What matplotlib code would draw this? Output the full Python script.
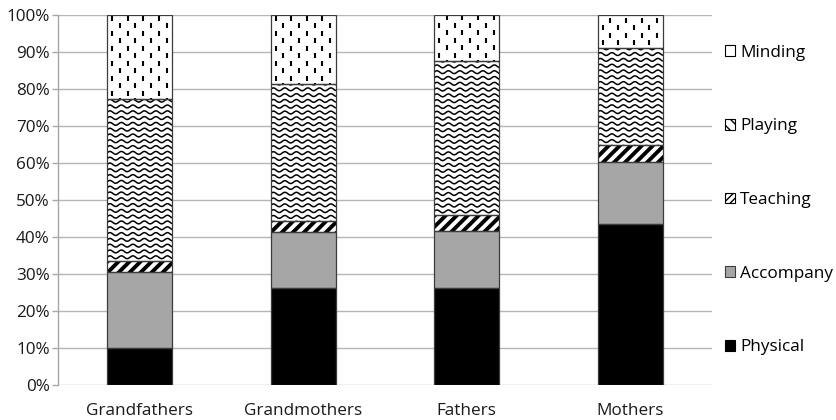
import numpy as np
import matplotlib.pyplot as plt
from matplotlib.collections import LineCollection
from matplotlib.patches import Patch

plt.rcParams['font.family'] = ['Open Sans', 'DejaVu Sans']

groups = ['Grandfathers', 'Grandmothers', 'Fathers', 'Mothers']
physical = [9.9, 26.1, 26.1, 43.4]
accompany = [20.7, 15.3, 15.6, 17.0]
teaching = [2.9, 3.0, 4.2, 4.5]
playing = [43.8, 37.0, 41.7, 26.1]
minding = [22.7, 18.6, 12.4, 9.0]
ytick_vals = list(range(0, 101, 10))

W, H, DPI = 837, 420, 100
fig = plt.figure(figsize=(W / DPI, H / DPI), dpi=DPI)
ax_l, ax_r, ax_t, ax_b = 58, 712, 15, 385
ax = fig.add_axes([ax_l / W, 1 - ax_b / H, (ax_r - ax_l) / W, (ax_b - ax_t) / H])

x = np.arange(len(groups))
ax.set_xlim(-0.5, len(groups) - 0.5)
ax.set_ylim(0, 100)
# pixels per data unit, used to lay the fill patterns out in screen space
sx = (ax_r - ax_l) / len(groups)
sy = (ax_b - ax_t) / 100.0

bar_w = 0.40
edge = '#3c3c3c'
fs = 12.3


def wave_fill(patch):
    x0, y0 = patch.get_x(), patch.get_y()
    wp, hp = patch.get_width() * sx, patch.get_height() * sy
    xs = np.linspace(0, wp, 120)
    segs = []
    for yr in np.arange(-2.0, hp + 4, 5.8):
        ys = yr + 1.4 * np.sin(2 * np.pi * xs / 11.5)
        segs.append(np.column_stack([x0 + xs / sx, y0 + ys / sy]))
    lc = LineCollection(segs, colors='black', linewidths=1.1, zorder=2.2)
    ax.add_collection(lc)
    lc.set_clip_path(patch)


def dash_fill(patch):
    x0, y0 = patch.get_x(), patch.get_y()
    wp, hp = patch.get_width() * sx, patch.get_height() * sy
    segs = []
    for i, cx in enumerate(np.arange(5.0, wp, 7.8)):
        start = 3.0 + (i % 2) * 7.5 - 15
        for cy in np.arange(start, hp + 15, 15):
            segs.append([(x0 + cx / sx, y0 + cy / sy),
                         (x0 + cx / sx, y0 + (cy + 5) / sy)])
    lc = LineCollection(segs, colors='black', linewidths=1.5, zorder=2.2)
    ax.add_collection(lc)
    lc.set_clip_path(patch)


def stripe_fill(patch):
    x0, y0 = patch.get_x(), patch.get_y()
    wp, hp = patch.get_width() * sx, patch.get_height() * sy
    segs = []
    for c in np.arange(-hp - 12, wp + 12, 11.0):
        segs.append([(x0 + c / sx, y0 - 2 / sy),
                     (x0 + (c + hp + 4) / sx, y0 + (hp + 2) / sy)])
    lc = LineCollection(segs, colors='black', linewidths=2.8, zorder=2.2)
    ax.add_collection(lc)
    lc.set_clip_path(patch)


series = [
    ('Physical', physical, 'black', None),
    ('Accompany', accompany, '#a6a6a6', None),
    ('Teaching', teaching, 'white', stripe_fill),
    ('Playing', playing, 'white', wave_fill),
    ('Minding', minding, 'white', dash_fill),
]

bottom = np.zeros(len(groups))
for name, vals, color, filler in series:
    bars = ax.bar(x, vals, bar_w, bottom=bottom, color=color,
                  edgecolor='none', zorder=2)
    if filler is not None:
        for p in bars.patches:
            filler(p)
    ax.bar(x, vals, bar_w, bottom=bottom, fill=False, edgecolor=edge,
           linewidth=0.9, zorder=3)
    bottom += np.array(vals)

ax.set_yticks(ytick_vals)
ax.set_yticklabels([f'{v}%' for v in ytick_vals])
ax.set_xticks(x)
ax.set_xticklabels(groups)
ax.yaxis.grid(True, color='#b5b5b5', linewidth=1.0)
ax.set_axisbelow(True)
for s in ['top', 'right', 'bottom']:
    ax.spines[s].set_visible(False)
ax.spines['left'].set_color('#a8a8a8')
ax.spines['left'].set_linewidth(1.0)
ax.tick_params(axis='y', length=4.5, color='#a8a8a8', width=1.0,
               labelsize=fs, labelcolor='#1a1a1a', pad=1.5)
ax.tick_params(axis='x', length=0, labelsize=fs, labelcolor='#1a1a1a', pad=13)

handles = [
    Patch(facecolor='white', edgecolor='black', hatch='|', linewidth=0.8),
    Patch(facecolor='white', edgecolor='black', hatch='\\\\\\', linewidth=0.8),
    Patch(facecolor='white', edgecolor='black', hatch='/////', linewidth=0.8),
    Patch(facecolor='#a6a6a6', edgecolor=edge, linewidth=0.8),
    Patch(facecolor='black', edgecolor='black', linewidth=0.8),
]
labels = ['Minding', 'Playing', 'Teaching', 'Accompany', 'Physical']
fig.legend(handles, labels, loc='center left',
           bbox_to_anchor=(725 / W, 1 - 200 / H), frameon=False,
           fontsize=fs, handlelength=0.58, handleheight=0.58,
           handletextpad=0.3, labelspacing=3.38, borderpad=0,
           borderaxespad=0)

fig.savefig('out.png', dpi=DPI)
